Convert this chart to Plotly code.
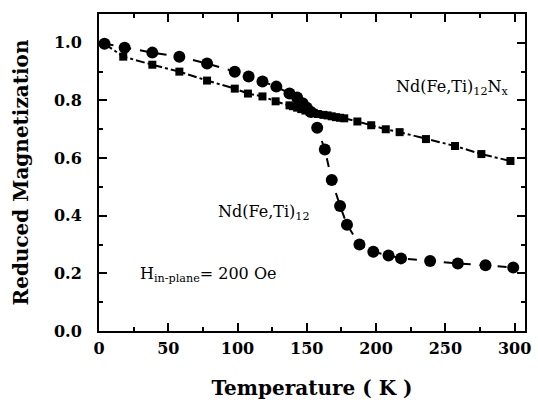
import plotly.graph_objects as go

# Nd(Fe,Ti)12 (circles)
t_circ = [4, 18.5, 38.5, 58, 78, 98, 108, 118, 128, 137.5, 143, 147, 150, 153,
          157.5, 163, 168, 174, 179, 188, 198, 209, 218, 239, 259, 279, 299]
m_circ = [0.997, 0.983, 0.966, 0.952, 0.928, 0.90, 0.883, 0.866, 0.848, 0.824, 0.81, 0.79,
          0.775, 0.76, 0.705, 0.63, 0.524, 0.434, 0.369, 0.30, 0.275, 0.262, 0.252,
          0.243, 0.234, 0.228, 0.22]

# Nd(Fe,Ti)12Nx (squares)
t_sq = [4, 17.5, 38.5, 58, 78, 98, 107.5, 118, 127.5, 137.5, 140, 143, 146, 149, 152,
        155, 158, 162, 165, 168, 171, 174, 177, 186.5, 196.5, 207, 217, 236, 257, 276, 297]
m_sq = [0.997, 0.952, 0.924, 0.90, 0.869, 0.841, 0.824, 0.814, 0.797, 0.783, 0.78, 0.775,
        0.77, 0.765, 0.76, 0.757, 0.753, 0.75, 0.748, 0.745, 0.742, 0.74, 0.738, 0.727,
        0.714, 0.70, 0.69, 0.666, 0.642, 0.614, 0.59]

x_ticks = [0, 50, 100, 150, 200, 250, 300]
y_ticks = [0.0, 0.2, 0.4, 0.6, 0.8, 1.0]
y_ticklabels = ["0.0", "0.2", "0.4", "0.6", "0.8", "1.0"]

fig = go.Figure()
fig.add_trace(go.Scatter(
    x=t_sq, y=m_sq, mode="lines+markers",
    line=dict(color="black", width=2, dash="dashdot"),
    marker=dict(symbol="square", size=8, color="black"),
    showlegend=False))
fig.add_trace(go.Scatter(
    x=t_circ, y=m_circ, mode="lines+markers",
    line=dict(color="black", width=2, dash="dash"),
    marker=dict(symbol="circle", size=12, color="black"),
    showlegend=False))

axis_font = dict(family="DejaVu Serif", size=16, color="black", weight="bold")
title_font = dict(family="DejaVu Serif", size=20, color="black", weight="bold")

fig.update_xaxes(
    range=[0, 307.5], tickvals=x_ticks, ticks="inside", ticklen=8, tickwidth=2,
    minor=dict(dtick=25, ticks="inside", ticklen=4, tickwidth=1.5, tickcolor="black"),
    showline=True, linewidth=2, linecolor="black", mirror="allticks",
    showgrid=False, zeroline=False, tickfont=axis_font, tickcolor="black",
    ticklabelstandoff=2,
    title=dict(text="Temperature ( K )", font=title_font, standoff=24))
fig.update_yaxes(
    range=[0, 1.1], tickvals=y_ticks, ticktext=y_ticklabels, ticks="inside", ticklen=8,
    tickwidth=2,
    minor=dict(dtick=0.1, ticks="inside", ticklen=4, tickwidth=1.5, tickcolor="black"),
    showline=True, linewidth=2, linecolor="black", mirror="allticks",
    showgrid=False, zeroline=False, tickfont=axis_font, tickcolor="black",
    ticklabelstandoff=12,
    title=dict(text="Reduced Magnetization", font=title_font, standoff=20))

ann_font = dict(family="DejaVu Serif", size=16, color="black")
fig.add_annotation(x=255, y=0.845, text="Nd(Fe,Ti)<sub>12</sub>N<sub>x</sub>",
                   showarrow=False, font=ann_font, xanchor="center")
fig.add_annotation(x=119, y=0.41, text="Nd(Fe,Ti)<sub>12</sub>",
                   showarrow=False, font=ann_font, xanchor="center")
fig.add_annotation(x=79, y=0.195, text="H<sub>in-plane</sub>= 200 Oe",
                   showarrow=False, font=ann_font, xanchor="center")

fig.update_layout(
    width=538, height=403,
    margin=dict(l=99, r=7, t=14, b=70),
    plot_bgcolor="white", paper_bgcolor="white",
)

fig.write_html("out.html")
